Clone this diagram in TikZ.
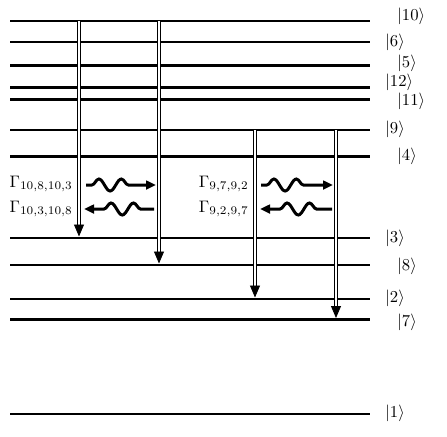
\documentclass[tikz,border=0pt]{standalone}
\usetikzlibrary{arrows.meta,decorations.pathmorphing}
\begin{document}
\begin{tikzpicture}[x=0.6pt,y=-0.6pt,
  level/.style={line width=1.7pt},
  decay/.style={double=white, draw=black, line width=0.5pt, double distance=1.3pt,
    -{Triangle[length=7.2pt,width=6pt]}},
  wave/.style={line width=1.8pt, decorate,
    decoration={snake, amplitude=3.6pt, segment length=13.5pt}},
  waveright/.style={wave, decoration={pre length=3.5pt, post length=12pt},
    -{Triangle[length=6pt,width=5.2pt]}},
  waveleft/.style={wave, decoration={pre length=12pt, post length=3.5pt},
    {Triangle[length=6pt,width=5.2pt]}-},
  ket/.style={inner sep=0pt, anchor=west},
  rate/.style={inner sep=0pt, anchor=east}]
\useasboundingbox (0,0) rectangle (447,436);
% levels
\foreach \n/\y in {10/21,6/42,5/65.5,12/87.5,11/99.5,9/130,4/156.5,3/238,8/265,2/299,7/319.5,1/414}{
  \coordinate (L\n w) at (10,\y);
  \coordinate (L\n e) at (370,\y);
  \draw[level] (L\n w) -- (L\n e);
}
% ket labels
\node[ket] (k10) at (397,16) {$|10\rangle$};
\node[ket] (k6)  at (385,42) {$|6\rangle$};
\node[ket] (k5)  at (397,63) {$|5\rangle$};
\node[ket] (k12) at (385,82) {$|12\rangle$};
\node[ket] (k11) at (397,101) {$|11\rangle$};
\node[ket] (k9)  at (385,129) {$|9\rangle$};
\node[ket] (k4)  at (397,156) {$|4\rangle$};
\node[ket] (k3)  at (385,238) {$|3\rangle$};
\node[ket] (k8)  at (397,266) {$|8\rangle$};
\node[ket] (k2)  at (385,298) {$|2\rangle$};
\node[ket] (k7)  at (397,322) {$|7\rangle$};
\node[ket] (k1)  at (385,413) {$|1\rangle$};
% decay arrows
\coordinate (a1s) at (79,21);  \coordinate (a1e) at (79,236.5);
\coordinate (a2s) at (159,21); \coordinate (a2e) at (159,263.5);
\coordinate (a3s) at (255,130); \coordinate (a3e) at (255,297.5);
\coordinate (a4s) at (336,130); \coordinate (a4e) at (336,318);
\draw[decay] (a1s) -- (a1e);
\draw[decay] (a2s) -- (a2e);
\draw[decay] (a3s) -- (a3e);
\draw[decay] (a4s) -- (a4e);
% rates
\node[rate] (g1) at (73,184) {$\Gamma_{10,8,10,3}$};
\node[rate] (g2) at (73,209) {$\Gamma_{10,3,10,8}$};
\node[rate] (g3) at (249,184) {$\Gamma_{9,7,9,2}$};
\node[rate] (g4) at (249,209) {$\Gamma_{9,2,9,7}$};
% wavy arrows
\coordinate (w1s) at (86,185);  \coordinate (w1e) at (156,185);
\coordinate (w2s) at (84,209);  \coordinate (w2e) at (154,209);
\coordinate (w3s) at (261,185); \coordinate (w3e) at (333,185);
\coordinate (w4s) at (260,209); \coordinate (w4e) at (332,209);
\draw[waveright] (w1s) -- (w1e);
\draw[waveleft] (w2s) -- (w2e);
\draw[waveright] (w3s) -- (w3e);
\draw[waveleft] (w4s) -- (w4e);
\end{tikzpicture}
\end{document}
